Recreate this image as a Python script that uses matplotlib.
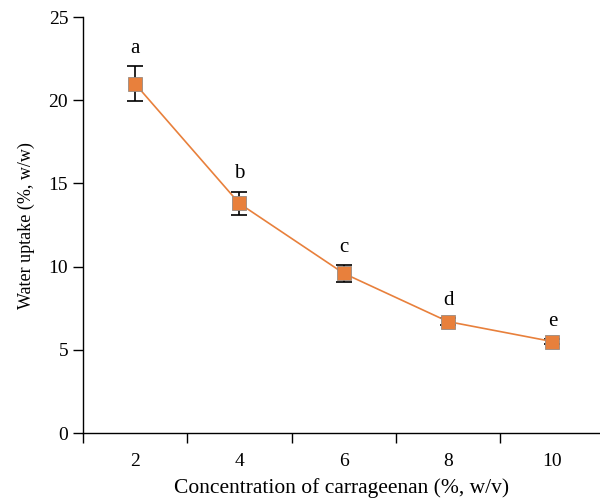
import matplotlib.pyplot as plt
from matplotlib.ticker import FixedLocator, NullFormatter

plt.rcParams['font.family'] = ['Liberation Serif', 'DejaVu Serif']

conc = [2, 4, 6, 8, 10]
uptake = [21.0, 13.8, 9.6, 6.7, 5.5]
err = [1.05, 0.7, 0.5, 0.2, 0.15]
letters = ['a', 'b', 'c', 'd', 'e']

fig = plt.figure(figsize=(6, 5.03), dpi=100)
ax = fig.add_axes([0.138, 0.139, 0.861, 0.827])

ax.errorbar(conc, uptake, yerr=err, fmt='none', ecolor='black',
            elinewidth=1.2, capsize=6, capthick=1.2, zorder=2)
ax.plot(conc, uptake, color='#E8803C', lw=1.2, marker='s', ms=10,
        markerfacecolor='#E8803C', markeredgecolor='#9a8a80',
        markeredgewidth=0.6, zorder=3)

for x, y, e, t in zip(conc, uptake, err, letters):
    ax.text(x, y + e + 0.5, t, ha='center', va='bottom', fontsize=15)

ax.set_xlim(1, 10.9)
ax.set_ylim(0, 25)
ax.set_yticks([0, 5, 10, 15, 20, 25])
ax.xaxis.set_major_locator(FixedLocator([1, 3, 5, 7, 9]))
ax.xaxis.set_major_formatter(NullFormatter())
ax.xaxis.set_minor_locator(FixedLocator(conc))
ax.set_xticklabels([str(c) for c in conc], minor=True)
ax.tick_params(axis='x', which='major', direction='out', length=7, width=1)
ax.tick_params(axis='x', which='minor', length=0, pad=14, labelsize=14)
ax.tick_params(axis='y', direction='out', length=7, width=1, labelsize=14)

for s in ['top', 'right']:
    ax.spines[s].set_visible(False)
for s in ['left', 'bottom']:
    ax.spines[s].set_linewidth(1)

ax.set_xlabel('Concentration of carrageenan (%, w/v)', fontsize=15.5, labelpad=6)
ax.set_ylabel('Water uptake (%, w/w)', fontsize=13, labelpad=10)

fig.savefig('out.png', dpi=100)
